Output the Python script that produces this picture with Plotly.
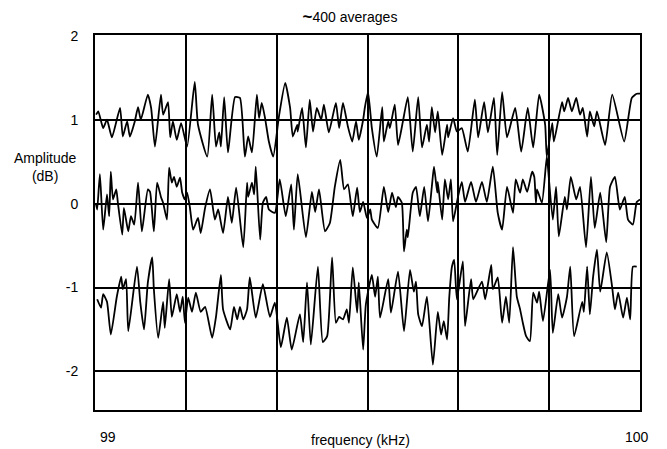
import plotly.graph_objects as go

# ---- data ----
f_start = 99.0
f_stop = 100.0
grid_freqs = [99 + k / 6 for k in range(1, 6)]
y_ticks = [-2, -1, 0, 1, 2]
y_tick_text = ["-2", "-1", "0", "1", "2"]
x_tick_vals = [99, 100]
x_tick_text = ["99", "100"]

# frequency offsets above 99 kHz and amplitudes (dB) for each trace
df_top = [0.002, 0.006, 0.015, 0.022, 0.031, 0.046, 0.051, 0.059, 0.064, 0.073, 0.079, 0.084, 0.097, 0.103,
          0.110, 0.121, 0.125, 0.134, 0.138, 0.143, 0.150, 0.158, 0.169, 0.183, 0.189, 0.206, 0.215, 0.222,
          0.228, 0.231, 0.237, 0.244, 0.257, 0.266, 0.275, 0.281, 0.288, 0.297, 0.301, 0.306, 0.312, 0.319,
          0.327, 0.338, 0.349, 0.358, 0.363, 0.371, 0.372, 0.380, 0.387, 0.394, 0.400, 0.407, 0.415, 0.420,
          0.429, 0.442, 0.448, 0.455, 0.464, 0.472, 0.479, 0.484, 0.492, 0.495, 0.501, 0.508, 0.517, 0.527,
          0.530, 0.538, 0.541, 0.550, 0.556, 0.565, 0.574, 0.583, 0.593, 0.600, 0.609, 0.613, 0.618, 0.624,
          0.629, 0.637, 0.646, 0.648, 0.657, 0.664, 0.673, 0.684, 0.697, 0.703, 0.714, 0.721, 0.732, 0.738,
          0.747, 0.756, 0.771, 0.782, 0.794, 0.804, 0.815, 0.826, 0.829, 0.839, 0.842, 0.857, 0.861, 0.868,
          0.875, 0.883, 0.890, 0.895, 0.903, 0.908, 0.916, 0.921, 0.936, 0.949, 0.971, 0.985, 0.994, 1.000]
amp_top = [1.06, 1.10, 0.90, 1.00, 0.79, 1.14, 0.80, 0.98, 0.80, 0.98, 1.15, 1.00, 1.30, 1.14,
           0.68, 1.30, 1.06, 1.21, 0.79, 0.98, 0.76, 0.96, 0.68, 1.45, 0.94, 0.56, 1.30, 0.68,
           0.85, 0.68, 1.27, 0.61, 1.27, 1.26, 0.56, 0.80, 0.61, 1.30, 1.02, 1.20, 1.02, 0.74,
           0.56, 1.06, 1.44, 1.14, 0.80, 0.94, 0.86, 1.14, 0.67, 1.24, 0.86, 1.14, 1.00, 1.18,
           0.85, 1.20, 0.90, 1.20, 0.92, 0.74, 0.98, 0.76, 1.00, 1.14, 1.33, 0.90, 0.56, 1.15,
           0.74, 0.98, 0.90, 1.18, 0.70, 0.98, 1.27, 0.62, 1.27, 0.67, 0.94, 0.74, 1.15, 0.85,
           1.10, 0.58, 0.94, 0.79, 1.02, 0.86, 0.90, 0.62, 1.24, 0.79, 1.21, 0.85, 1.26, 0.58,
           1.33, 0.79, 1.14, 0.62, 1.14, 0.67, 1.30, 0.94, 0.56, 0.96, 0.74, 1.21, 1.10, 1.26,
           1.10, 1.26, 1.06, 1.14, 0.80, 1.10, 0.92, 1.10, 0.70, 1.30, 0.74, 1.26, 1.31, 1.31]

df_mid = [0.002, 0.004, 0.009, 0.015, 0.022, 0.026, 0.029, 0.033, 0.039, 0.042, 0.050, 0.053, 0.061, 0.066,
          0.072, 0.079, 0.086, 0.097, 0.101, 0.108, 0.114, 0.121, 0.125, 0.132, 0.136, 0.141, 0.145, 0.150,
          0.156, 0.160, 0.165, 0.169, 0.174, 0.180, 0.189, 0.194, 0.202, 0.211, 0.220, 0.226, 0.235, 0.244,
          0.251, 0.259, 0.272, 0.279, 0.281, 0.288, 0.292, 0.295, 0.303, 0.308, 0.314, 0.319, 0.330, 0.339,
          0.350, 0.360, 0.365, 0.372, 0.387, 0.398, 0.404, 0.411, 0.422, 0.431, 0.440, 0.450, 0.457, 0.464,
          0.473, 0.481, 0.486, 0.492, 0.499, 0.505, 0.508, 0.519, 0.530, 0.538, 0.545, 0.552, 0.556, 0.563,
          0.567, 0.572, 0.574, 0.583, 0.589, 0.596, 0.604, 0.611, 0.618, 0.622, 0.628, 0.629, 0.637, 0.642,
          0.648, 0.653, 0.657, 0.666, 0.673, 0.679, 0.690, 0.699, 0.710, 0.719, 0.730, 0.739, 0.747, 0.756,
          0.767, 0.772, 0.780, 0.785, 0.793, 0.802, 0.806, 0.809, 0.811, 0.820, 0.829, 0.831, 0.840, 0.846,
          0.851, 0.862, 0.866, 0.873, 0.883, 0.890, 0.901, 0.910, 0.917, 0.927, 0.938, 0.945, 0.954, 0.963,
          0.972, 0.978, 0.987, 0.994, 1.000]
amp_mid = [-0.01, -0.07, 0.35, -0.31, 0.11, -0.15, 0.38, 0.05, 0.17, 0.01, -0.37, -0.05, -0.33, -0.15,
           -0.25, 0.25, -0.33, 0.17, 0.14, -0.33, 0.25, 0.08, 0.01, -0.19, 0.43, 0.25, 0.32, 0.20,
           0.31, 0.13, 0.05, 0.13, -0.04, -0.31, -0.17, -0.35, -0.05, 0.17, -0.19, -0.07, -0.35, 0.08,
           -0.23, 0.19, -0.52, 0.25, 0.08, 0.25, 0.11, 0.44, -0.43, 0.01, 0.08, -0.07, -0.11, 0.29,
           -0.15, 0.23, -0.31, 0.35, -0.40, 0.14, -0.10, 0.17, -0.33, -0.23, 0.20, 0.52, 0.17, 0.23,
           -0.15, 0.19, -0.10, 0.02, -0.17, -0.07, -0.19, -0.29, 0.20, -0.10, 0.13, -0.04, 0.08, 0.01,
           -0.57, -0.31, -0.40, 0.13, 0.20, -0.15, 0.20, -0.21, 0.20, 0.44, 0.13, 0.26, -0.19, 0.29,
           0.05, 0.29, -0.21, 0.08, 0.26, 0.02, 0.26, 0.02, 0.26, 0.02, 0.44, -0.11, -0.31, 0.20,
           -0.11, 0.29, 0.13, 0.29, 0.14, 0.38, 0.32, 0.01, 0.17, 0.01, 0.56, 0.44, -0.19, 0.20,
           -0.39, 0.08, -0.07, 0.32, 0.05, 0.20, -0.52, 0.32, -0.29, 0.13, -0.46, 0.20, 0.32, -0.07,
           0.08, -0.19, -0.25, 0.02, 0.05]

df_low = [0.004, 0.011, 0.015, 0.022, 0.029, 0.040, 0.048, 0.051, 0.057, 0.061, 0.077, 0.083, 0.090, 0.097,
          0.105, 0.108, 0.116, 0.125, 0.128, 0.136, 0.141, 0.150, 0.156, 0.161, 0.165, 0.171, 0.178, 0.185,
          0.194, 0.202, 0.215, 0.222, 0.231, 0.235, 0.248, 0.255, 0.261, 0.266, 0.272, 0.279, 0.284, 0.295,
          0.308, 0.321, 0.330, 0.341, 0.352, 0.361, 0.376, 0.382, 0.389, 0.396, 0.409, 0.418, 0.426, 0.435,
          0.442, 0.448, 0.455, 0.462, 0.466, 0.473, 0.481, 0.484, 0.492, 0.497, 0.508, 0.514, 0.519, 0.523,
          0.538, 0.543, 0.556, 0.567, 0.578, 0.585, 0.589, 0.593, 0.600, 0.609, 0.620, 0.629, 0.635, 0.640,
          0.646, 0.650, 0.655, 0.659, 0.664, 0.675, 0.679, 0.690, 0.694, 0.710, 0.716, 0.727, 0.730, 0.739,
          0.747, 0.754, 0.760, 0.767, 0.774, 0.780, 0.785, 0.791, 0.798, 0.804, 0.811, 0.815, 0.822, 0.835,
          0.840, 0.850, 0.857, 0.866, 0.872, 0.879, 0.894, 0.897, 0.903, 0.908, 0.914, 0.921, 0.927, 0.939,
          0.949, 0.954, 0.960, 0.969, 0.976, 0.982, 0.987, 0.994]
amp_low = [-1.14, -1.24, -1.08, -1.17, -1.56, -1.11, -0.87, -1.02, -0.90, -1.52, -0.75, -1.17, -1.50, -0.94,
           -0.64, -1.02, -1.60, -1.17, -1.48, -0.90, -1.35, -1.08, -1.29, -1.11, -1.42, -1.12, -1.29, -1.06,
           -1.29, -1.23, -1.60, -1.35, -0.85, -1.26, -1.50, -1.23, -1.38, -1.23, -1.38, -1.26, -0.88, -1.36,
           -0.96, -1.35, -1.18, -1.71, -1.36, -1.74, -1.32, -1.65, -0.94, -1.68, -0.75, -1.65, -1.58, -0.64,
           -1.42, -1.35, -1.38, -1.26, -1.42, -0.76, -1.30, -0.94, -1.74, -1.20, -0.85, -1.11, -0.87, -1.36,
           -0.90, -1.30, -0.81, -1.52, -0.79, -1.05, -0.93, -1.32, -1.46, -1.11, -1.92, -1.29, -1.56, -1.40,
           -1.62, -1.12, -0.75, -0.67, -1.14, -0.69, -1.46, -0.90, -1.14, -0.93, -1.14, -0.73, -1.02, -0.88,
           -1.42, -1.11, -1.42, -0.52, -1.11, -1.26, -1.42, -1.58, -1.64, -1.06, -1.18, -1.05, -1.40, -0.79,
           -1.54, -1.08, -1.36, -1.11, -0.75, -1.58, -1.17, -1.29, -0.75, -1.32, -0.87, -0.55, -1.05, -0.58,
           -1.00, -1.26, -1.06, -1.36, -1.12, -1.38, -0.75, -0.75]

title_text = "<b><span style='font-size:17px'>~</span></b>400 averages"
x_title = "frequency (kHz)"
y_title = "Amplitude<br>(dB)"

# ---- figure ----
# the page body has a default 8 px margin, so the figure is sized/offset to compensate
OFF = 8
W, H = 667 - OFF, 449 - OFF
L, T, R, B = 95 - OFF, 35 - OFF, 27, 39
PW, PH = W - L - R, H - T - B

FONT = "Liberation Sans, Arial, Helvetica, sans-serif"
fig = go.Figure()
for df, amp in [(df_top, amp_top), (df_mid, amp_mid), (df_low, amp_low)]:
    fig.add_trace(go.Scatter(
        x=[f_start + d for d in df], y=amp, mode="lines",
        line=dict(color="black", width=1.8, shape="spline", smoothing=0.5),
        showlegend=False, hoverinfo="skip"))

fig.update_layout(
    width=W, height=H,
    margin=dict(l=L, r=R, t=T, b=B),
    paper_bgcolor="white", plot_bgcolor="white",
    font=dict(family=FONT, size=14, color="black"),
    title=dict(text=title_text, x=(350 - OFF) / W, xanchor="center", y=1 - (17 - OFF) / H,
               yanchor="middle", yref="container", font=dict(size=14)),
)
fig.update_xaxes(
    range=[f_start, f_stop], tickvals=grid_freqs, showticklabels=False, ticks="",
    showgrid=True, gridcolor="black", gridwidth=1.8, zeroline=False,
    showline=True, linecolor="black", linewidth=1.8, mirror=True)
fig.update_yaxes(
    range=[-2.46, 2.01], tickvals=y_ticks, ticktext=y_tick_text, ticks="",
    ticklabelstandoff=12,
    showgrid=True, gridcolor="black", gridwidth=1.8, zeroline=False,
    showline=True, linecolor="black", linewidth=1.8, mirror=True)

shifts = [13, -3]
for v, t, s in zip(x_tick_vals, x_tick_text, shifts):
    fig.add_annotation(x=v, xref="x", y=-27 / PH, yref="paper", text=t, showarrow=False,
                       xanchor="center", yanchor="middle", xshift=s, font=dict(size=14))
fig.add_annotation(x=(360 - 95) / PW, xref="paper", y=-30 / PH, yref="paper", text=x_title,
                   showarrow=False, xanchor="center", yanchor="middle", font=dict(size=14))
fig.add_annotation(x=(45 - 95) / PW, xref="paper", y=(410 - 167) / PH, yref="paper", text=y_title,
                   showarrow=False, xanchor="center", yanchor="middle", font=dict(size=14))

fig.write_html("out.html")
